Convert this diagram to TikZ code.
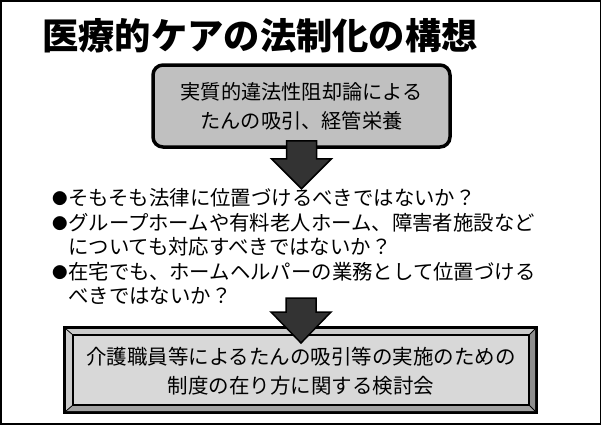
\documentclass[tikz,border=0pt]{standalone}
\usepackage{fontspec}
\newfontfamily\jp{Noto Sans CJK JP}
\definecolor{boxgray}{HTML}{C0C0C0}
\definecolor{facegray}{HTML}{D8D8D8}
\definecolor{bevlight}{HTML}{CBCBCB}
\definecolor{bevdark}{HTML}{8E8E8E}
\definecolor{bevmid}{HTML}{A2A2A2}
\definecolor{arrowgray}{HTML}{333333}
\begin{document}
\begin{tikzpicture}[x=1pt,y=-1pt,
  titletext/.style={font=\jp\bfseries\fontsize{36.3}{36}\selectfont, inner sep=0pt},
  topbox/.style={draw=black, line width=3.5pt, rounded corners=10pt, fill=boxgray,
    align=center, font=\jp\fontsize{20.2}{29}\selectfont, text=black},
  bodytext/.style={font=\jp\fontsize{20.4}{24}\selectfont, inner sep=0pt, anchor=base west},
  bullettext/.style={font=\jp\fontsize{15.5}{15}\selectfont, inner sep=0pt, anchor=base west},
  blockarrow/.style={fill=arrowgray, draw=black, line width=1.5pt, line join=miter},
  facetext/.style={align=center, font=\jp\fontsize{20.5}{29}\selectfont, inner sep=0pt}
]
\useasboundingbox (0,0) rectangle (602,426);
% slide frame
\draw[line width=1.5pt] (0.75,0.75) rectangle (600.5,424);

% title
\node[titletext, anchor=west] (title) at (42,36) {医療的ケアの法制化の構想};

% top rounded box
\node[topbox, minimum width=297pt, minimum height=82pt] (top) at (301.5,106)
  {実質的違法性阻却論による\\たんの吸引、経管栄養};

% arrow 1
\draw[blockarrow, shift={(top.south)}]
  (-15,-8) -- (15,-8) -- (15,10) -- (30,10) -- (0,40) -- (-30,10) -- (-15,10) -- cycle;

% bullet list
\node[bullettext] (d1) at (52,204.5) {●};
\node[bodytext] (t1) at (68,205.5) {そもそも法律に位置づけるべきではないか？};
\node[bullettext] (d2) at (52,229) {●};
\node[bodytext] (t2) at (68,230) {グループホームや有料老人ホーム、障害者施設など};
\node[bodytext] (t3) at (68,254.5) {についても対応すべきではないか？};
\node[bullettext] (d4) at (52,278) {●};
\node[bodytext] (t4) at (68,279) {在宅でも、ホームヘルパーの業務として位置づける};
\node[bodytext] (t5) at (68,303.5) {べきではないか？};

% bottom bevelled box
\fill[black] (63,326) rectangle (538,414);
\fill[bevlight] (66,329) -- (535,329) -- (529,335) -- (73,335) -- cycle;
\fill[bevlight] (66,329) -- (73,335) -- (73,405) -- (66,411) -- cycle;
\fill[bevdark] (535,329) -- (535,411) -- (529,405) -- (529,335) -- cycle;
\fill[bevmid] (66,411) -- (535,411) -- (529,405) -- (73,405) -- cycle;
\draw[black, line width=0.8pt] (66,329) -- (73,335) (535,329) -- (529,335)
  (66,411) -- (73,405) (535,411) -- (529,405);
\draw[black, line width=1.5pt, fill=facegray] (73,335) rectangle (529,405);
\node[facetext] (bottom) at (301,371)
  {介護職員等によるたんの吸引等の実施のための\\制度の在り方に関する検討会};

% arrow 2
\coordinate (a2) at (301,312);
\draw[blockarrow, shift={(a2)}]
  (-15,-14) -- (15,-14) -- (15,0) -- (30,0) -- (0,31) -- (-30,0) -- (-15,0) -- cycle;
\end{tikzpicture}
\end{document}
